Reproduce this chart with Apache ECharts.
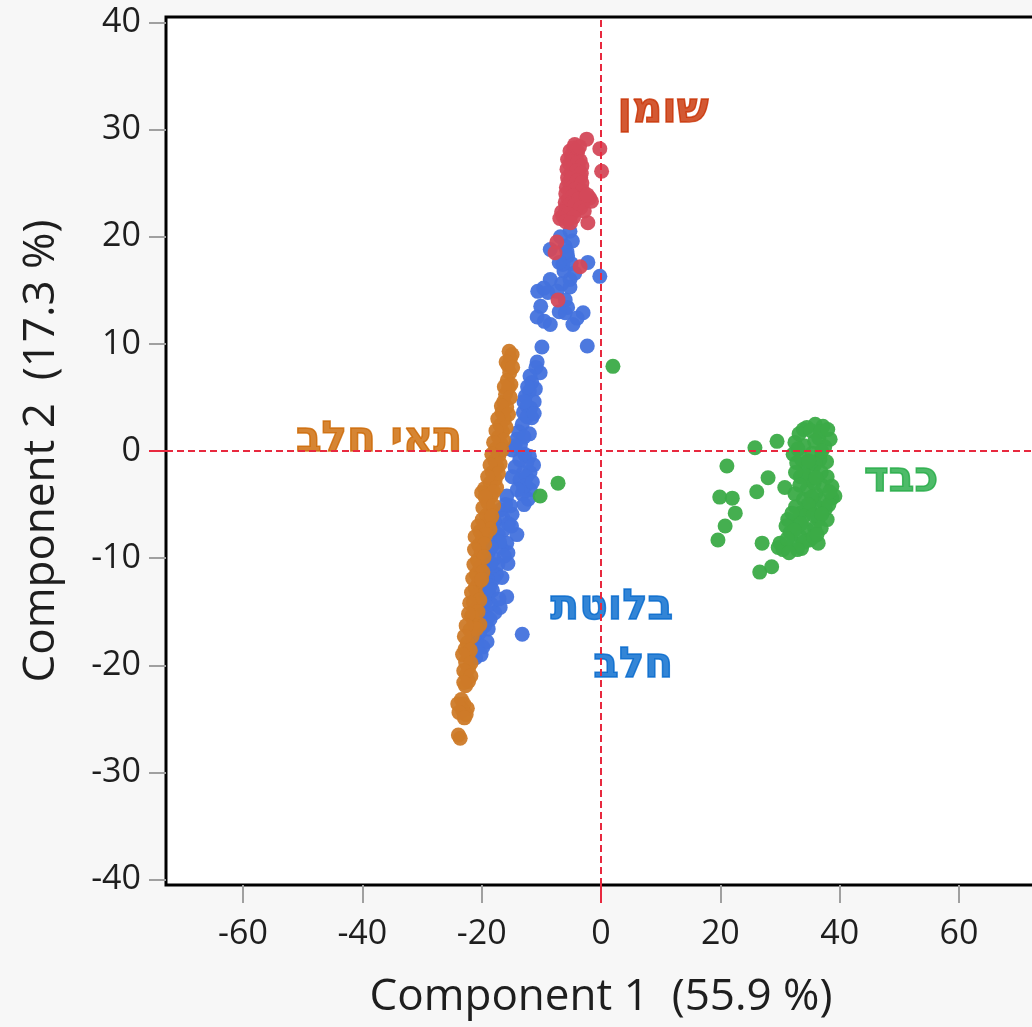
<!DOCTYPE html>
<html>
<head>
    <meta charset="utf-8">
    <title>Component plot</title>
    <script src="https://cdn.jsdelivr.net/npm/echarts@6/dist/echarts.min.js"></script>
    <style>
        body {
            margin: 0;
            padding: 0;
            background-color: #f7f7f7;
        }
        #chart {
            width: 1032px;
            height: 1027px;
        }
    </style>
</head>
<body>
    <div id="chart"></div>

    <script>
        // [component 1, component 2] per sample
        var fatPoints = [
            [-2.4, 29.1], [-0.2, 28.2], [0.1, 26.1], [-1.9, 23.6], [-2.2, 21.3],
            [-4.6, 28.3], [-3.9, 28.0], [-5.0, 27.6], [-4.2, 27.3], [-3.5, 27.1],
            [-5.3, 26.8], [-4.5, 26.6], [-3.7, 26.3], [-5.1, 25.9], [-4.3, 25.7],
            [-3.4, 25.5], [-5.4, 25.1], [-4.6, 24.9], [-3.8, 24.6], [-5.2, 24.2],
            [-4.1, 24.0], [-3.3, 23.8], [-5.5, 23.5], [-4.7, 23.3], [-3.9, 23.0],
            [-2.9, 23.2], [-5.0, 22.7], [-4.2, 22.5], [-6.4, 21.9], [-5.6, 21.6],
            [-4.9, 22.1], [-6.0, 22.3], [-4.0, 27.8], [-4.8, 26.1], [-3.6, 24.2],
            [-5.8, 22.8], [-7.4, 19.5], [-7.7, 18.5], [-3.5, 17.2], [-7.2, 14.1],
            [-5.2, 28.0], [-4.4, 28.6], [-3.6, 28.4], [-5.6, 27.2], [-4.8, 27.0],
            [-3.9, 26.9], [-3.2, 26.6], [-5.7, 26.3], [-4.1, 26.1], [-3.3, 25.9],
            [-5.6, 25.5], [-4.9, 25.4], [-4.0, 25.2], [-3.2, 25.0], [-5.8, 24.6],
            [-5.0, 24.5], [-4.3, 24.4], [-3.1, 24.3], [-5.9, 24.0], [-4.7, 23.8],
            [-3.7, 23.5], [-2.6, 23.7], [-6.0, 23.2], [-5.2, 23.0], [-4.4, 22.9],
            [-3.4, 22.7], [-2.8, 22.4], [-6.6, 22.3], [-5.5, 22.1], [-4.6, 21.8],
            [-6.9, 21.7], [-5.9, 21.4], [-5.1, 21.3], [-1.6, 23.3], [-2.3, 23.9]
        ];
        var glandPoints = [
            [-5.2, 20.5], [-6.0, 19.1], [-8.5, 18.8], [-2.2, 17.6], [-6.4, 17.4],
            [-0.2, 16.3], [-8.5, 16.0], [-5.2, 16.0], [-5.2, 15.3], [-10.6, 14.9],
            [-8.9, 14.8], [-6.0, 14.1], [-10.7, 12.5], [-8.5, 11.8], [-6.0, 12.9],
            [-4.7, 11.8], [-3.0, 12.9], [-9.9, 9.7], [-2.3, 9.8], [-5.6, 18.2],
            [-6.2, 16.8], [-5.0, 17.5],
            [-6.8, 20.0], [-4.8, 19.6], [-5.7, 18.6], [-7.0, 17.6], [-4.4, 16.6],
            [-6.6, 15.6], [-7.4, 14.9], [-9.6, 15.2], [-5.6, 13.4], [-9.5, 12.1],
            [-10.1, 13.5], [-4.0, 12.4], [-7.0, 13.0],
            [-10.7, 8.3], [-10.2, 7.3], [-11.6, 6.4], [-12.7, 5.1], [-12.4, 4.2],
            [-11.6, 3.1], [-13.2, 2.5], [-14.1, 1.1], [-14.9, 0.1], [-12.4, -1.0],
            [-14.4, -1.5], [-11.9, -2.0], [-13.6, -2.7], [-11.9, -3.6], [-12.2, -4.5],
            [-15.8, -4.2], [-16.9, -5.5], [-14.9, -5.9], [-17.8, -6.6], [-18.1, -7.3],
            [-14.1, -7.8], [-18.6, -8.3], [-15.8, -8.6], [-15.6, -9.5], [-18.9, -9.5],
            [-15.6, -10.5], [-19.1, -10.8], [-19.8, -12.0],
            [-12.0, 5.6], [-11.2, 4.6], [-13.0, 3.6], [-12.0, 1.6], [-13.5, 0.6],
            [-12.8, -0.3], [-13.0, -2.0], [-12.6, -3.2], [-13.2, -4.0], [-16.5, -6.2],
            [-17.2, -7.8], [-16.8, -9.0], [-17.9, -10.1], [-17.5, -11.5],
            [-10.9, 7.8], [-11.9, 7.0], [-11.0, 5.8], [-12.3, 6.0], [-11.8, 4.0],
            [-12.9, 4.6], [-12.4, 3.2], [-11.2, 3.5], [-13.8, 1.8], [-12.9, 1.3],
            [-14.4, 0.5], [-13.6, -0.8], [-12.0, -0.5], [-11.3, -1.3], [-14.9, -2.4],
            [-12.5, -2.4], [-13.0, -3.3], [-11.5, -2.9], [-14.0, -3.6], [-12.9, -5.0],
            [-15.2, -5.1], [-16.0, -5.0], [-15.5, -6.8], [-16.4, -7.4], [-15.0, -7.0],
            [-17.0, -8.5], [-16.2, -9.8], [-17.3, -10.6], [-18.3, -11.2], [-16.6, -11.8],
            [-18.1, -12.0],
            [-19.1, -12.0], [-19.8, -13.2], [-15.8, -13.6], [-19.8, -14.5], [-17.8, -15.1],
            [-20.8, -15.7], [-20.3, -16.9], [-19.1, -17.8], [-21.5, -18.8], [-13.2, -17.1],
            [-18.6, -12.6], [-19.3, -14.0], [-18.4, -14.3], [-20.1, -15.2], [-19.5, -16.3],
            [-20.8, -17.6], [-20.6, -18.3], [-18.8, -13.3],
            [-18.4, -9.0], [-19.4, -9.9], [-18.5, -10.5], [-19.6, -11.3], [-20.2, -12.7],
            [-18.2, -13.0], [-19.0, -15.6], [-20.0, -14.0], [-18.9, -16.6], [-21.2, -17.2],
            [-19.8, -18.3], [-21.0, -19.3], [-20.1, -19.0], [-18.6, -15.7], [-16.9, -14.6],
            [-17.1, -13.8]
        ];
        var milkCellPoints = [
            [-15.4, 9.3], [-15.2, 8.6], [-15.6, 8.0], [-15.3, 7.3], [-15.7, 6.6],
            [-15.5, 5.9], [-16.0, 5.3], [-16.3, 4.6], [-15.8, 4.1], [-16.6, 3.6],
            [-16.2, 3.0], [-16.9, 2.4], [-16.5, 1.8], [-17.2, 1.3], [-16.8, 0.7],
            [-17.6, 0.2], [-17.1, -0.4], [-17.8, -0.9], [-17.4, -1.5], [-18.2, -2.0],
            [-17.7, -2.6], [-18.6, -3.0], [-19.5, -3.5], [-20.0, -3.9], [-18.4, -4.2],
            [-19.0, -4.8], [-18.5, -5.5], [-19.2, -6.0], [-18.8, -6.6], [-19.6, -7.1],
            [-20.3, -7.5], [-19.9, -8.2], [-20.5, -8.8], [-20.1, -9.5], [-20.7, -10.2],
            [-20.3, -10.9], [-20.9, -11.5], [-20.5, -12.2], [-21.1, -12.8], [-20.8, -13.5],
            [-21.4, -14.1], [-21.0, -14.8], [-21.7, -15.4], [-21.3, -16.0], [-20.3, -16.2],
            [-22.0, -16.7], [-21.6, -17.3], [-22.4, -17.9], [-22.8, -18.5], [-22.3, -19.1],
            [-22.7, -19.7], [-22.2, -20.3], [-22.6, -20.9], [-22.2, -21.5], [-22.7, -21.9],
            [-23.4, -23.2], [-23.0, -23.6], [-22.4, -24.0], [-23.2, -24.2], [-22.6, -24.6],
            [-23.6, -26.8],
            [-14.9, 9.0], [-15.9, 8.3], [-14.8, 7.8], [-15.1, 6.2], [-16.2, 6.0],
            [-15.2, 5.0], [-16.7, 4.2], [-15.5, 3.4], [-17.3, 3.0], [-15.9, 2.2],
            [-17.6, 1.9], [-16.3, 1.0], [-18.0, 0.8], [-16.6, 0.1], [-18.3, -0.3],
            [-16.9, -1.2], [-18.6, -1.3], [-17.2, -2.1], [-19.0, -2.4], [-17.5, -3.4],
            [-18.0, -3.8], [-19.4, -4.3], [-19.8, -5.3], [-18.0, -5.1], [-19.9, -6.4],
            [-18.3, -6.1], [-18.6, -7.3], [-20.6, -7.0], [-19.3, -7.8], [-21.1, -8.0],
            [-19.5, -8.7], [-21.2, -9.2], [-19.6, -9.9], [-21.3, -10.6], [-19.8, -11.3],
            [-21.5, -11.9], [-20.0, -12.0], [-21.7, -13.2], [-20.3, -13.9], [-22.0, -14.2],
            [-20.6, -15.0], [-22.2, -15.2], [-20.9, -16.6], [-22.6, -16.3], [-22.9, -17.3],
            [-21.9, -18.6], [-23.2, -19.0], [-21.8, -19.8], [-23.0, -20.5], [-21.8, -21.0],
            [-23.0, -21.6], [-24.0, -23.6], [-23.8, -24.4], [-22.9, -24.9], [-23.9, -26.5]
        ];
        var liverPoints = [
            [2.0, 7.9], [-7.2, -3.0], [-10.2, -4.2],
            [25.8, 0.3], [29.5, 0.9], [21.1, -1.4], [28.0, -2.5], [26.1, -3.8],
            [19.9, -4.3], [22.0, -4.4], [22.5, -5.8], [20.8, -7.0], [19.6, -8.3],
            [27.0, -8.6], [26.6, -11.3], [28.6, -10.8], [30.8, -3.4],
            [34.5, 2.2], [35.9, 2.5], [37.2, 2.3], [33.9, 2.0], [38.4, 1.1],
            [32.5, 0.8], [32.2, -0.3], [35.4, -0.2], [36.7, -0.8], [32.8, -1.1],
            [35.5, -1.7], [37.9, -2.4], [35.0, -2.7], [33.4, -2.4], [37.2, -3.3],
            [38.7, -3.3], [34.5, -3.6], [36.0, -4.0], [39.2, -4.2], [33.9, -4.5],
            [38.7, -4.4], [36.2, -5.2], [37.6, -5.4], [33.4, -5.8], [35.0, -5.5],
            [31.3, -6.4], [36.4, -6.4], [37.9, -6.4], [32.8, -6.7], [34.5, -7.3],
            [35.8, -7.2], [31.7, -7.6], [33.4, -8.0], [35.0, -8.3], [36.4, -8.6],
            [32.2, -8.6], [30.0, -8.6], [30.5, -9.2], [29.7, -9.0], [33.6, -9.1],
            [34.2, -1.5], [36.5, 1.2], [37.8, -1.0], [34.0, 0.5],
            [33.2, 1.6], [35.2, 1.9], [36.8, 1.8], [38.0, 2.0], [33.0, 0.2],
            [37.5, 0.4], [35.8, 0.9], [33.6, -0.8], [35.9, -1.2], [36.9, -2.0],
            [34.0, -2.2], [32.6, -2.0], [35.7, -3.0], [33.3, -3.2], [36.8, -4.6],
            [35.3, -4.3], [34.7, -5.0], [38.2, -5.0], [32.6, -5.2], [34.0, -6.1],
            [35.6, -6.0], [37.0, -5.9], [32.0, -5.8], [33.5, -6.8], [36.9, -7.2],
            [31.0, -7.0], [32.4, -7.4], [34.0, -8.5], [35.6, -8.0], [31.2, -8.2],
            [32.9, -9.2], [31.5, -9.5], [36.2, -7.8], [38.3, -3.8], [32.5, -4.0],
            [34.8, -0.9], [37.0, 0.0], [36.0, -2.5]
        ];

        var xTicks = [-60, -40, -20, 0, 20, 40, 60];
        var yTicks = [-40, -30, -20, -10, 0, 10, 20, 30, 40];

        // group names written on the plot, at their data position
        var groupNames = ['שומן', 'תאי חלב', 'כבד', 'בלוטת\nחלב'];
        var groupNameX = [10.4, -37.2, 50.3, 12.1];
        var groupNameY = [31.7, 1.0, -2.7, -17.4];

        var nameColors = ['#c83000', '#cc6600', '#22aa44', '#0066cc'];
        var nameAlign = ['center', 'center', 'center', 'right'];

        var labelFont = "'Open Sans', 'Noto Sans', sans-serif";
        var hebrewFont = "'DejaVu Sans', 'Liberation Sans', sans-serif";

        var chart = echarts.init(document.getElementById('chart'));

        // strokes in the same colour make the names as heavy as in the picture
        var nameData = groupNames.map(function (t, i) {
            return {
                value: [groupNameX[i], groupNameY[i]],
                label: {
                    formatter: t,
                    color: nameColors[i],
                    align: nameAlign[i],
                    textBorderColor: nameColors[i],
                    textBorderWidth: 1.5
                }
            };
        });

        function pointSeries(data, color) {
            return {
                type: 'scatter',
                data: data,
                symbolSize: 15,
                itemStyle: { color: color, opacity: 0.95 },
                silent: true
            };
        }

        var option = {
            backgroundColor: '#f7f7f7',
            animation: false,
            grid: {
                left: 166,
                top: 17,
                right: -4,
                bottom: 142,
                outerBoundsMode: 'none',
                show: true,
                backgroundColor: '#ffffff',
                borderColor: '#000000',
                borderWidth: 3
            },
            xAxis: [{
                type: 'value',
                min: -72.9,
                max: 72.9,
                splitLine: { show: false },
                axisLine: { show: false, onZero: false },
                axisTick: {
                    show: true,
                    customValues: xTicks.filter(function (v) { return v !== 0; }),
                    length: 18,
                    lineStyle: { color: '#a0a0a0', width: 2 }
                },
                axisLabel: {
                    customValues: xTicks,
                    margin: 32,
                    fontSize: 34,
                    fontFamily: labelFont,
                    color: '#1e1e1e'
                },
                name: 'Component 1  (55.9 %)',
                nameLocation: 'middle',
                nameGap: 90,
                nameTextStyle: { fontSize: 44, fontFamily: labelFont, color: '#1e1e1e' }
            }, {
                type: 'value',
                position: 'bottom',
                min: -72.9,
                max: 72.9,
                splitLine: { show: false },
                axisLine: { show: false, onZero: false },
                axisLabel: { show: false },
                axisTick: {
                    show: true,
                    customValues: [0],
                    length: 18,
                    lineStyle: { color: '#e8293f', width: 2 }
                }
            }],
            yAxis: [{
                type: 'value',
                min: -40.5,
                max: 40.5,
                splitLine: { show: false },
                axisLine: { show: false, onZero: false },
                axisTick: {
                    show: true,
                    customValues: yTicks.filter(function (v) { return v !== 0; }),
                    length: 17,
                    lineStyle: { color: '#a0a0a0', width: 2 }
                },
                axisLabel: {
                    customValues: yTicks,
                    margin: 25,
                    fontSize: 34,
                    fontFamily: labelFont,
                    color: '#1e1e1e'
                },
                name: 'Component 2  (17.3 %)',
                nameLocation: 'middle',
                nameGap: 103,
                nameTextStyle: { fontSize: 44, fontFamily: labelFont, color: '#1e1e1e' }
            }, {
                type: 'value',
                position: 'left',
                min: -40.5,
                max: 40.5,
                splitLine: { show: false },
                axisLine: { show: false, onZero: false },
                axisLabel: { show: false },
                axisTick: {
                    show: true,
                    customValues: [0],
                    length: 17,
                    lineStyle: { color: '#e8293f', width: 2 }
                }
            }],
            series: [
                pointSeries(glandPoints, '#4372dd'),
                pointSeries(milkCellPoints, '#ce7a28'),
                pointSeries(fatPoints, '#d4495a'),
                pointSeries(liverPoints, '#3bab47'),
                {
                    type: 'scatter',
                    data: [],
                    silent: true,
                    markLine: {
                        silent: true,
                        symbol: 'none',
                        label: { show: false },
                        lineStyle: { color: '#e8293f', width: 2, type: [7, 4] },
                        data: [{ xAxis: 0 }, { yAxis: 0 }]
                    }
                },
                {
                    type: 'scatter',
                    data: nameData,
                    symbolSize: 1,
                    itemStyle: { color: 'transparent' },
                    silent: true,
                    label: {
                        show: true,
                        position: 'inside',
                        verticalAlign: 'middle',
                        fontSize: 42,
                        fontWeight: 'bold',
                        lineHeight: 58,
                        fontFamily: hebrewFont
                    }
                }
            ]
        };

        chart.setOption(option);
    </script>
</body>
</html>
